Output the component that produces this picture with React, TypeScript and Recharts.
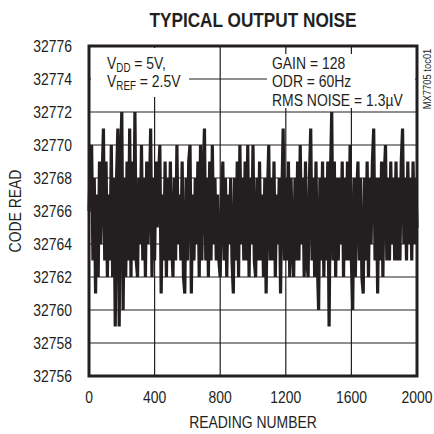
import React from 'react';
import { LineChart, Line, XAxis, YAxis, CartesianGrid, ReferenceArea } from 'recharts';

const READING_STEP = 8;
const codes = [
  32766, 32769, 32770, 32763, 32768, 32761, 32767, 32762, 32769, 32764,
  32768, 32771, 32763, 32769, 32762, 32767, 32763, 32770, 32762, 32768,
  32759, 32768, 32771, 32759, 32769, 32772, 32760, 32768, 32762, 32769,
  32763, 32771, 32762, 32769, 32763, 32772, 32763, 32762, 32768, 32764,
  32770, 32763, 32768, 32762, 32769, 32764, 32767, 32771, 32762, 32768,
  32763, 32769, 32765, 32768, 32770, 32761, 32767, 32763, 32769, 32762,
  32768, 32763, 32769, 32764, 32762, 32768, 32763, 32770, 32764, 32767,
  32763, 32769, 32762, 32761, 32768, 32763, 32769, 32770, 32761, 32767,
  32763, 32768, 32764, 32769, 32762, 32770, 32763, 32768, 32771, 32763,
  32768, 32762, 32769, 32763, 32770, 32764, 32768, 32763, 32767, 32763,
  32762, 32767, 32769, 32763, 32768, 32762, 32767, 32764, 32768, 32763,
  32761, 32768, 32763, 32769, 32762, 32770, 32764, 32768, 32763, 32769,
  32763, 32770, 32762, 32768, 32764, 32770, 32763, 32762, 32768, 32763,
  32769, 32763, 32767, 32762, 32768, 32761, 32767, 32770, 32763, 32768,
  32763, 32769, 32762, 32767, 32764, 32768, 32761, 32767, 32771, 32763,
  32768, 32763, 32769, 32762, 32768, 32764, 32762, 32768, 32763, 32769,
  32763, 32770, 32764, 32768, 32762, 32769, 32763, 32762, 32768, 32771,
  32763, 32768, 32762, 32769, 32763, 32760, 32768, 32763, 32769, 32762,
  32768, 32763, 32769, 32759, 32768, 32772, 32763, 32769, 32762, 32768,
  32763, 32768, 32764, 32769, 32762, 32768, 32763, 32769, 32763, 32770,
  32763, 32760, 32768, 32762, 32767, 32769, 32763, 32768, 32762, 32761,
  32768, 32763, 32769, 32762, 32768, 32764, 32769, 32771, 32763, 32768,
  32761, 32768, 32763, 32769, 32762, 32768, 32770, 32763, 32768, 32763,
  32769, 32764, 32768, 32763, 32769, 32763, 32768, 32763, 32769, 32771,
  32764, 32768, 32763, 32769, 32764, 32768, 32763, 32769, 32764, 32768,
  32765,
];
const xTicks = [0, 400, 800, 1200, 1600, 2000];
const yTicks = [32756, 32758, 32760, 32762, 32764, 32766, 32768, 32770, 32772, 32774, 32776];

const data = codes.map((c, i) => ({ reading: i * READING_STEP, code: c }));

const FONT = "'Liberation Sans', Arial, sans-serif";
const INK = '#231f20';
const SQ = 0.82;

function NText({ x, y, size = 17, anchor = 'start', weight = 'normal', rotate = 0, dy, children }: any) {
  return (
    <text
      transform={`translate(${x},${y}) rotate(${rotate}) scale(${SQ},1)`}
      x={0}
      y={0}
      dy={dy}
      fontSize={size}
      fontWeight={weight}
      textAnchor={anchor}
      fontFamily={FONT}
      fill={INK}
    >
      {children}
    </text>
  );
}

function XTick(props: any) {
  const { x, y, payload } = props;
  return <NText x={x} y={y} anchor="middle" dy="0.71em">{payload.value}</NText>;
}

function YTick(props: any) {
  const { x, y, payload } = props;
  return <NText x={x} y={y} anchor="end" dy="0.355em">{payload.value}</NText>;
}

function Annotations() {
  return (
    <g>
      <NText x={253} y={27} anchor="middle" size={21} weight="bold">TYPICAL OUTPUT NOISE</NText>
      <NText x={21} y={211} anchor="middle" rotate={-90}>CODE READ</NText>
      <NText x={253} y={428} anchor="middle">READING NUMBER</NText>
      <NText x={431} y={79} anchor="middle" size={11.5} rotate={-90}>MX7705 toc01</NText>
      <rect x={91} y={48} width={98} height={49} fill="#fff" />
      <rect x={267} y={54} width={148} height={54} fill="#fff" />
      <NText x={107} y={69}>V<tspan fontSize={12} dy={3}>DD</tspan><tspan dy={-3}> = 5V,</tspan></NText>
      <NText x={107} y={87}>V<tspan fontSize={12} dy={3}>REF</tspan><tspan dy={-3}> = 2.5V</tspan></NText>
      <NText x={272} y={69}>GAIN = 128</NText>
      <NText x={272} y={87}>ODR = 60Hz</NText>
      <NText x={272} y={106}>RMS NOISE = 1.3µV</NText>
    </g>
  );
}

export default function App() {
  return (
    <div style={{ position: 'absolute', left: 0, top: 0, width: 434, height: 434, background: '#fff' }}>
      <LineChart width={434} height={434} data={data} margin={{ top: 46, right: 17, bottom: 0, left: 0 }}>
        <CartesianGrid stroke={INK} strokeWidth={1.2} />
        <XAxis
          dataKey="reading"
          type="number"
          domain={[0, 2000]}
          ticks={xTicks}
          height={58}
          axisLine={false}
          tickLine={false}
          tickSize={0}
          tickMargin={15}
          tick={<XTick />}
          interval={0}
        />
        <YAxis
          dataKey="code"
          type="number"
          domain={[32756, 32776]}
          ticks={yTicks}
          width={89}
          axisLine={false}
          tickLine={false}
          tickSize={0}
          tickMargin={17}
          tick={<YTick />}
          interval={0}
        />
        <Line
          type="linear"
          dataKey="code"
          stroke={INK}
          strokeWidth={3.2}
          strokeLinejoin="bevel"
          dot={false}
          isAnimationActive={false}
        />
        <ReferenceArea x1={0} x2={2000} y1={32756} y2={32776} fill="none" stroke={INK} strokeWidth={3} ifOverflow="visible" />
        <Annotations />
      </LineChart>
    </div>
  );
}
